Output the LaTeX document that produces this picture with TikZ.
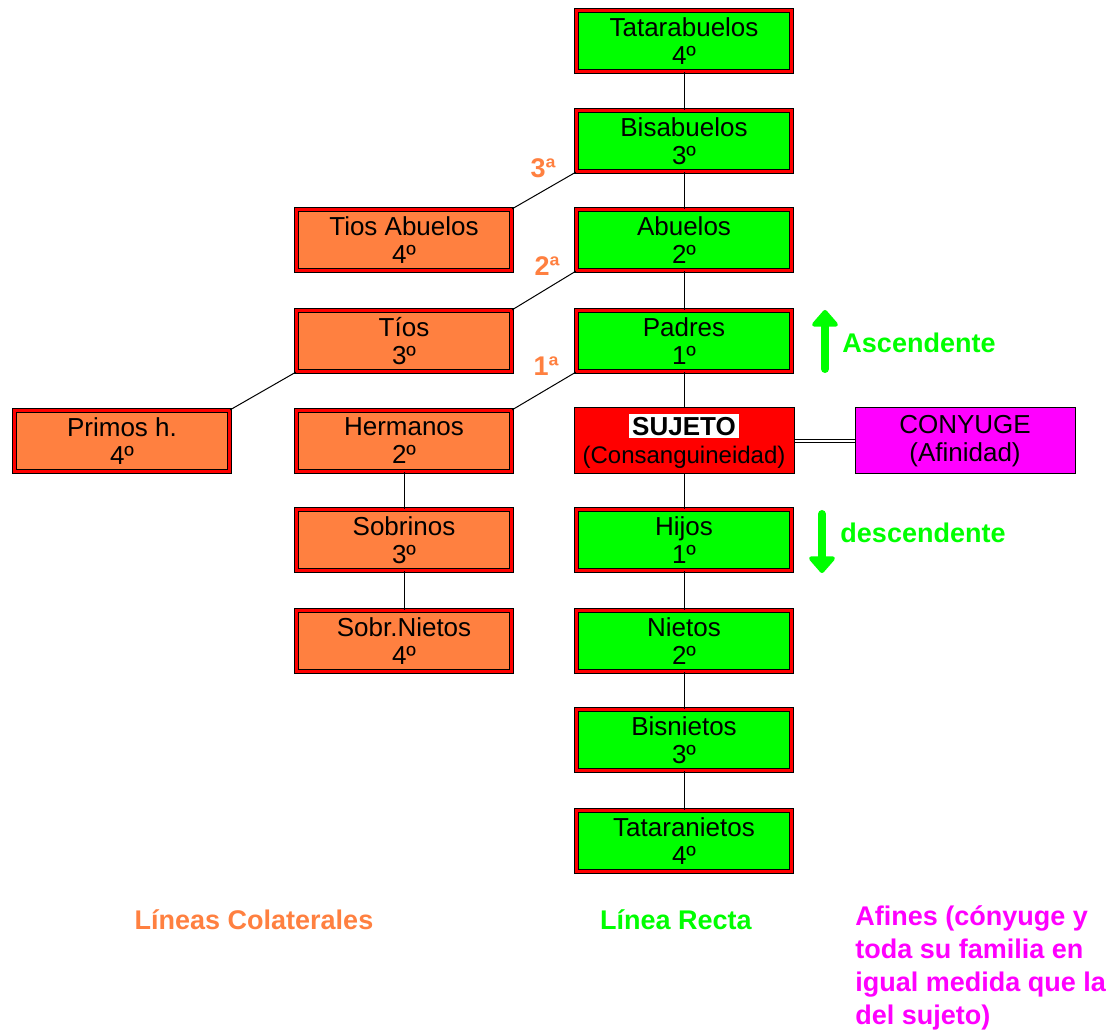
\documentclass[tikz,border=0pt]{standalone}
\usepackage{fontspec}
\setmainfont{Liberation Sans}
\usetikzlibrary{arrows.meta}
\definecolor{verde}{RGB}{0,255,0}
\definecolor{naranja}{RGB}{255,128,64}
\definecolor{rojo}{RGB}{255,0,0}
\definecolor{rosa}{RGB}{255,0,255}
\tikzset{
  caja/.style={draw=black, double=rojo, double distance=1.4pt, line width=0.45pt,
    minimum width=107.7pt, minimum height=30.7pt, inner sep=0pt, align=center,
    font=\fontsize{13}{14}\selectfont},
  verdebox/.style={caja, fill=verde},
  naranjabox/.style={caja, fill=naranja},
  simplebox/.style={draw=black, line width=0.5pt, minimum width=110pt, minimum height=33pt,
    inner sep=0pt, align=center, font=\fontsize{13}{14}\selectfont},
  etiq/.style={font=\fontsize{13.5}{16.5}\selectfont\bfseries},
  linea/.style={black, line width=0.5pt},
  flecha/.style={verde, line width=4pt, line cap=round, -{Triangle[round, width=15pt, length=9pt]}}
}
\begin{document}
\begin{tikzpicture}[x=0.5pt, y=-0.5pt]
  \useasboundingbox (0,0) rectangle (1109,1031);

  %%draw the straight line
  \node[verdebox] (tatara) at (684,41) {Tatarabuelos\\4º};
  \node[verdebox] (bisa) at (684,141) {Bisabuelos\\3º};
  \node[verdebox] (abuelos) at (684,240) {Abuelos\\2º};
  \node[verdebox] (padres) at (684,341) {Padres\\1º};
  \node[simplebox, fill=rojo] (sujeto) at (684,441)
    {{\setlength\fboxsep{1.5pt}\colorbox{white}{\bfseries SUJETO}}\\{\fontsize{12}{14}\selectfont(Consanguineidad)}};
  \node[verdebox] (hijos) at (684,540) {Hijos\\1º};
  \node[verdebox] (nietos) at (684,641) {Nietos\\2º};
  \node[verdebox] (bisnietos) at (684,740) {Bisnietos\\3º};
  \node[verdebox] (tataranietos) at (684,841) {Tataranietos\\4º};

  %%draw the collateral lines
  \node[naranjabox] (tiosab) at (404,240) {Tios Abuelos\\4º};
  \node[naranjabox] (tios) at (404,341) {Tíos\\3º};
  \node[naranjabox] (hermanos) at (404,441) {Hermanos\\2º};
  \node[naranjabox] (sobrinos) at (404,540) {Sobrinos\\3º};
  \node[naranjabox] (sobrnietos) at (404,641) {Sobr.Nietos\\4º};
  \node[naranjabox] (primos) at (122,441) {Primos h.\\4º};

  %%draw the spouse
  \node[simplebox, fill=rosa] (conyuge) at (965,441) {CONYUGE\\(Afinidad)};

  %%draw the connectors
  \draw[linea] (tatara) to (bisa);
  \draw[linea] (bisa) to (abuelos);
  \draw[linea] (abuelos) to (padres);
  \draw[linea] (padres) to (sujeto);
  \draw[linea] (sujeto) to (hijos);
  \draw[linea] (hijos) to (nietos);
  \draw[linea] (nietos) to (bisnietos);
  \draw[linea] (bisnietos) to (tataranietos);
  \draw[linea] (bisa.south west) to (tiosab.north east);
  \draw[linea] (abuelos.south west) to (tios.north east);
  \draw[linea] (padres.south west) to (hermanos.north east);
  \draw[linea] (tios.south west) to (primos.north east);
  \draw[linea] (hermanos) to (sobrinos);
  \draw[linea] (sobrinos) to (sobrnietos);
  \draw[black, line width=0.45pt, double=white, double distance=1pt] (sujeto) to (conyuge);

  %%degree labels
  \node[etiq, text=naranja] (g3) at (543,168) {3ª};
  \node[etiq, text=naranja] (g2) at (547,266) {2ª};
  \node[etiq, text=naranja] (g1) at (546,366) {1ª};

  %%draw the arrows
  \coordinate (asc1) at (825,369);
  \coordinate (asc2) at (825,310);
  \draw[flecha] (asc1) to (asc2);
  \node[etiq, text=verde] (asc) at (919,343) {Ascendente};
  \coordinate (desc1) at (822,514);
  \coordinate (desc2) at (822,573);
  \draw[flecha] (desc1) to (desc2);
  \node[etiq, text=verde] (desc) at (923,533) {descendente};

  %%bottom captions
  \node[etiq, text=naranja] (colat) at (254,920) {Líneas Colaterales};
  \node[etiq, text=verde] (recta) at (676,920) {Línea Recta};
  \node[etiq, text=rosa, align=left, anchor=north west, inner sep=0pt] (afines) at (855,905)
    {Afines (cónyuge y\\toda su familia en\\igual medida que la\\del sujeto)};
\end{tikzpicture}
\end{document}
